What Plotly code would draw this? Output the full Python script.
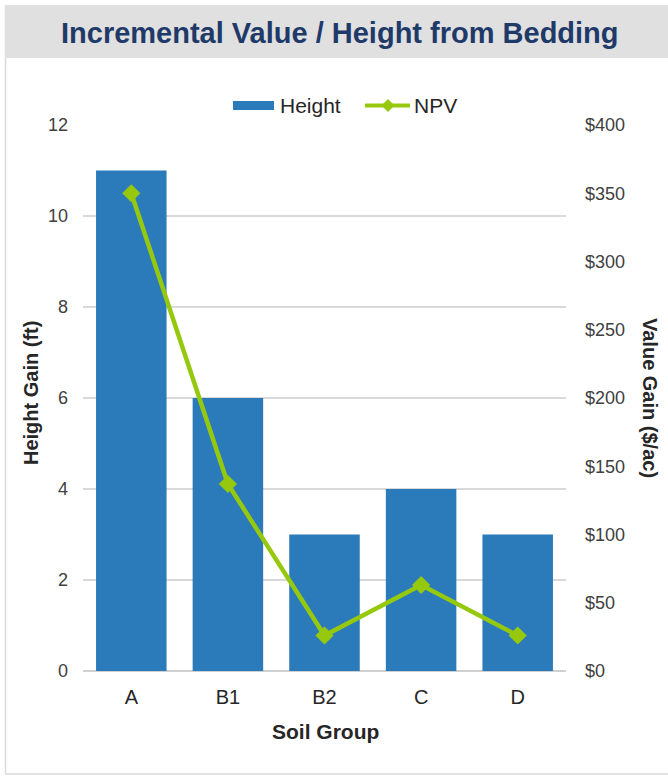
import plotly.graph_objects as go

categories = ["A", "B1", "B2", "C", "D"]
height_gain = [11, 6, 3, 4, 3]
npv_gain = [350, 137, 26, 63, 26]
left_ticks = [0, 2, 4, 6, 8, 10, 12]
right_ticks = [0, 50, 100, 150, 200, 250, 300, 350, 400]
right_tick_labels = ["$" + str(v) for v in right_ticks]

W, H = 668, 776
ml, mr, mt, mb = 83, 102, 125, 105
PW, PH = W - ml - mr, H - mt - mb


def px(x):
    return (x - ml) / PW


def py(y):
    return (H - mb - y) / PH


BAR = "#2b7bba"
LINE = "#96c90e"
FONT = "Liberation Sans, Arial, sans-serif"
DARK = "#262626"

fig = go.Figure()
fig.add_trace(go.Bar(x=categories, y=height_gain, name="Height", showlegend=False,
                     marker=dict(color=BAR, line=dict(width=0)), yaxis="y"))
fig.add_trace(go.Scatter(x=categories, y=npv_gain, name="NPV", mode="lines+markers", showlegend=False,
                         line=dict(color=LINE, width=4.5),
                         marker=dict(symbol="diamond", size=14, color=LINE), yaxis="y2"))

shapes = [
    # outer border (left + bottom visible)
    dict(type="line", xref="paper", yref="paper", x0=px(5.5), x1=px(5.5), y0=py(774), y1=py(5),
         line=dict(color="#d9d9d9", width=1.5), layer="below"),
    dict(type="line", xref="paper", yref="paper", x0=px(5.5), x1=px(668), y0=py(774), y1=py(774),
         line=dict(color="#d9d9d9", width=1.5), layer="below"),
    # title banner
    dict(type="rect", xref="paper", yref="paper", x0=px(5), x1=px(668), y0=py(58), y1=py(5),
         line=dict(width=0), fillcolor="#e0e0e0", layer="below"),
    # legend: Height swatch
    dict(type="rect", xref="paper", yref="paper", x0=px(233), x1=px(274), y0=py(110), y1=py(101),
         line=dict(width=0), fillcolor=BAR),
    # legend: NPV line
    dict(type="line", xref="paper", yref="paper", x0=px(365), x1=px(410), y0=py(105.5), y1=py(105.5),
         line=dict(color=LINE, width=4)),
    # legend: NPV diamond
    dict(type="path", xref="paper", yref="paper",
         path="M {a},{b} L {c},{d} L {a},{e} L {f},{d} Z".format(
             a=px(388), b=py(99), c=px(394.5), d=py(105.5), e=py(112), f=px(381.5)),
         line=dict(width=0), fillcolor=LINE),
]

annotations = [
    dict(text="<b>Incremental Value / Height from Bedding</b>", xref="paper", yref="paper",
         x=px(340), y=py(33), xanchor="center", yanchor="middle",
         showarrow=False, font=dict(size=29, color="#1f3a68", family=FONT)),
    dict(text="Height", xref="paper", yref="paper", x=px(278), y=py(106), xanchor="left", yanchor="middle",
         showarrow=False, font=dict(size=21, color=DARK, family=FONT)),
    dict(text="NPV", xref="paper", yref="paper", x=px(412), y=py(106), xanchor="left", yanchor="middle",
         showarrow=False, font=dict(size=21, color=DARK, family=FONT)),
    dict(text="<b>Height Gain (ft)</b>", xref="paper", yref="paper", x=px(31), y=py(393),
         xanchor="center", yanchor="middle", textangle=-90,
         showarrow=False, font=dict(size=20, color=DARK, family=FONT)),
    dict(text="<b>Value Gain ($/ac)</b>", xref="paper", yref="paper", x=px(650), y=py(398),
         xanchor="center", yanchor="middle", textangle=90,
         showarrow=False, font=dict(size=20, color=DARK, family=FONT)),
    dict(text="<b>Soil Group</b>", xref="paper", yref="paper", x=px(325), y=py(731),
         xanchor="center", yanchor="middle",
         showarrow=False, font=dict(size=21, color=DARK, family=FONT)),
]

fig.update_layout(
    width=W, height=H,
    margin=dict(l=ml, r=mr, t=mt, b=mb, autoexpand=False),
    paper_bgcolor="white", plot_bgcolor="white",
    font=dict(family=FONT, color="#404040", size=18),
    bargap=0.27,
    showlegend=False,
    xaxis=dict(showgrid=False, showline=False, ticks="", ticklabelstandoff=12,
               tickfont=dict(size=20, color=DARK)),
    yaxis=dict(range=[0, 12], tickvals=left_ticks, showgrid=True, gridcolor="#d9d9d9", gridwidth=2,
               zeroline=True, zerolinecolor="#d0d0d0", zerolinewidth=2,
               showline=False, ticks="", ticklabelstandoff=14, tickfont=dict(size=18, color="#404040")),
    yaxis2=dict(range=[0, 400], tickvals=right_ticks, ticktext=right_tick_labels, overlaying="y", side="right",
                showgrid=False, zeroline=False, showline=False, ticks="", ticklabelstandoff=18,
                tickfont=dict(size=18, color="#404040")),
    shapes=shapes,
    annotations=annotations,
)

fig.write_html("out.html", config={"displayModeBar": False},
               post_script="document.body.style.margin='0';")
